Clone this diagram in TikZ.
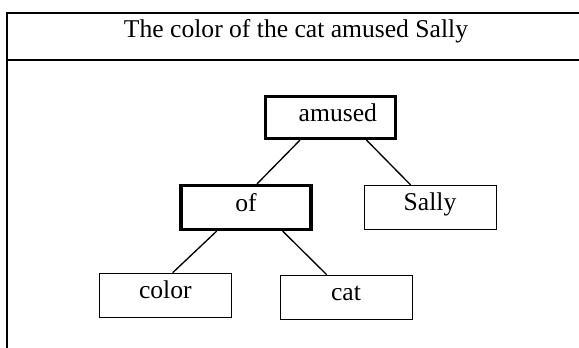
\documentclass[tikz,border=0pt]{standalone}
\usepackage{fontspec}
\setmainfont{Liberation Serif}
\usetikzlibrary{positioning,calc}

\begin{document}
\begin{tikzpicture}[x=0.75pt,y=-0.75pt,
    word/.style={draw, line width=0.75pt, inner sep=0pt, minimum width=99pt,
      minimum height=33pt, text height=0.72em, text depth=0.28em,
      font=\fontsize{19.2}{23}\selectfont},
    head/.style={word, line width=2.4pt, minimum width=97.5pt, minimum height=31.5pt,
      text depth=0.15em},
    link/.style={line width=1pt}]
    \clip (0,0) rectangle (579,347);

    % Frame with the sentence row
    \draw[line width=1.3pt] (7,400) -- (7,12.7) -- (600,12.7);
    \draw[line width=1.3pt] (7,60) -- (600,60);
    \node[anchor=base, font=\fontsize{19.2}{23}\selectfont] (sentence) at (296,37.3)
        {The color of the cat amused Sally};

    % Dependency tree
    \node[head] (amused) at (330.5,117.5) {\hspace{11pt}amused};
    \node[head, minimum height=33pt] (of) at (246,207.5) {of};
    \node[word] (sally) at (430,207.5) {Sally};
    \node[word] (color) at (165.3,295.2) {color};
    \node[word] (cat) at (346,297.2) {cat};

    \draw[link] ($(amused.south)+(-30.5,0)$) -- ($(of.north)+(11,0)$);
    \draw[link] ($(amused.south)+(36,0)$) -- ($(sally.north)+(-19.3,0)$);
    \draw[link] ($(of.south)+(-29.3,0)$) -- ($(color.north)+(7.4,0)$);
    \draw[link] ($(of.south)+(36.7,0)$) -- ($(cat.north)+(-19.3,0)$);
\end{tikzpicture}
\end{document}
